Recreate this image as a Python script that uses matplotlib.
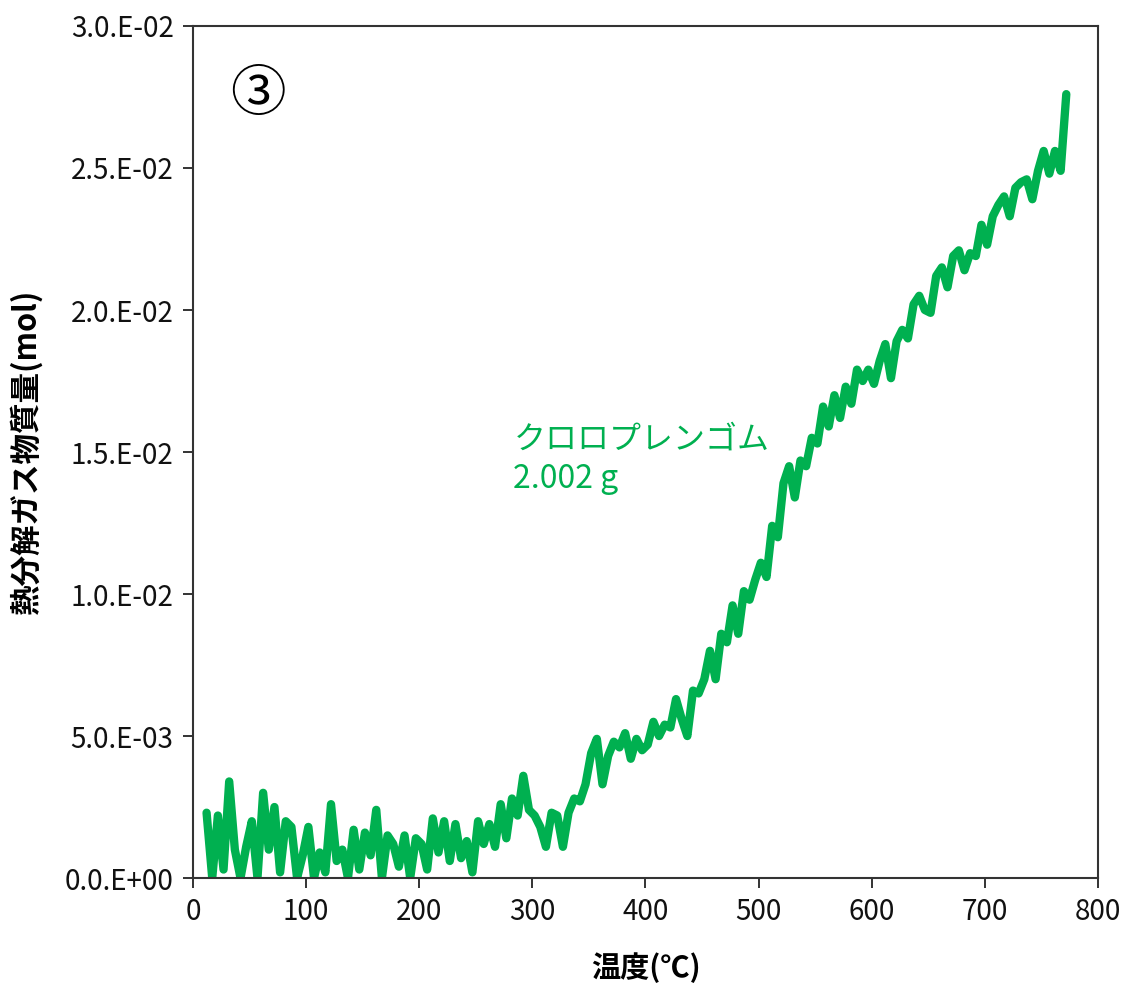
import matplotlib
matplotlib.use("Agg")
import matplotlib.pyplot as plt
from matplotlib.ticker import FuncFormatter

plt.rcParams['font.family'] = ['Noto Sans CJK JP', 'DejaVu Sans']

# temperature (degC) and evolved gas amount (x1e-3 mol)
temps = [12, 17, 22, 27, 32, 37, 42, 47, 52, 57,
         62, 67, 72, 77, 82, 87, 92, 97, 102, 107,
         112, 117, 122, 127, 132, 137, 142, 147, 152, 157,
         162, 167, 172, 177, 182, 187, 192, 197, 202, 207,
         212, 217, 222, 227, 232, 237, 242, 247, 252, 257,
         262, 267, 272, 277, 282, 287, 292, 297, 302, 307,
         312, 317, 322, 327, 332, 337, 342, 347, 352, 357,
         362, 367, 372, 377, 382, 387, 392, 397, 402, 407,
         412, 417, 422, 427, 432, 437, 442, 447, 452, 457,
         462, 467, 472, 477, 482, 487, 492, 497, 502, 507,
         512, 517, 522, 527, 532, 537, 542, 547, 552, 557,
         562, 567, 572, 577, 582, 587, 592, 597, 602, 607,
         612, 617, 622, 627, 632, 637, 642, 647, 652, 657,
         662, 667, 672, 677, 682, 687, 692, 697, 702, 707,
         712, 717, 722, 727, 732, 737, 742, 747, 752, 757,
         762, 767, 772]
gas_mmol = [2.3, 0.0, 2.2, 0.3, 3.4, 1.0, 0.0, 1.1, 2.0, 0.0,
            3.0, 1.0, 2.5, 0.2, 2.0, 1.8, 0.0, 0.8, 1.8, 0.0,
            0.9, 0.2, 2.6, 0.6, 1.0, 0.0, 1.7, 0.3, 1.6, 0.8,
            2.4, 0.0, 1.5, 1.2, 0.4, 1.5, 0.0, 1.4, 1.2, 0.3,
            2.1, 0.9, 2.0, 0.6, 1.9, 0.7, 1.3, 0.2, 2.0, 1.2,
            1.9, 1.1, 2.6, 1.4, 2.8, 2.2, 3.6, 2.4, 2.2, 1.8,
            1.1, 2.3, 2.2, 1.1, 2.3, 2.8, 2.7, 3.3, 4.4, 4.9,
            3.3, 4.3, 4.8, 4.6, 5.1, 4.2, 4.9, 4.5, 4.7, 5.5,
            5.0, 5.4, 5.3, 6.3, 5.6, 5.0, 6.6, 6.5, 7.0, 8.0,
            7.0, 8.6, 8.3, 9.6, 8.6, 10.1, 9.8, 10.5, 11.1, 10.6,
            12.4, 12.0, 13.9, 14.5, 13.4, 14.7, 14.5, 15.5, 15.3, 16.6,
            15.9, 17.0, 16.2, 17.3, 16.7, 17.9, 17.5, 17.9, 17.4, 18.2,
            18.8, 17.6, 18.9, 19.3, 19.0, 20.2, 20.5, 20.0, 19.9, 21.2,
            21.5, 20.8, 21.9, 22.1, 21.4, 22.0, 21.9, 23.0, 22.3, 23.3,
            23.7, 24.0, 23.3, 24.3, 24.5, 24.6, 23.9, 24.9, 25.6, 24.8,
            25.6, 24.9, 27.6]

x_ticks = [0, 100, 200, 300, 400, 500, 600, 700, 800]
y_ticks = [0.0, 0.005, 0.010, 0.015, 0.020, 0.025, 0.030]

sample_label = "クロロプレンゴム\n2.002 g"
green = "#00B050"

fig = plt.figure(figsize=(11.26, 9.88), dpi=100)
ax = fig.add_axes([0.1714, 0.1113, 0.8037, 0.8624])

ax.plot(temps, [v * 1e-3 for v in gas_mmol], color=green, lw=6,
        solid_joinstyle='round', solid_capstyle='round')

ax.set_xlim(0, 800)
ax.set_ylim(0, 0.03)
ax.set_xticks(x_ticks)
ax.set_yticks(y_ticks)


def sci_fmt(v, pos):
    s = "%.1E" % v          # e.g. 3.0E-02
    mant, ex = s.split("E")
    return "%s.E%s" % (mant, ex)


ax.yaxis.set_major_formatter(FuncFormatter(sci_fmt))
ax.tick_params(direction='out', length=7, width=1.2, labelsize=20,
               colors='#111111', pad=7)
for sp in ax.spines.values():
    sp.set_color('#333333')
    sp.set_linewidth(1.5)

ax.set_xlabel("温度(℃)", fontsize=21, fontweight='bold', labelpad=18)
ax.set_ylabel("熱分解ガス物質量(mol)", fontsize=22, fontweight='bold', labelpad=16)

ax.text(0.072, 0.919, "③", transform=ax.transAxes, fontsize=40,
        ha='center', va='center', color='black')
ax.text(0.354, 0.45, sample_label, transform=ax.transAxes, fontsize=23,
        color=green, ha='left', va='bottom', linespacing=1.3)

fig.savefig("out.png", dpi=100)
